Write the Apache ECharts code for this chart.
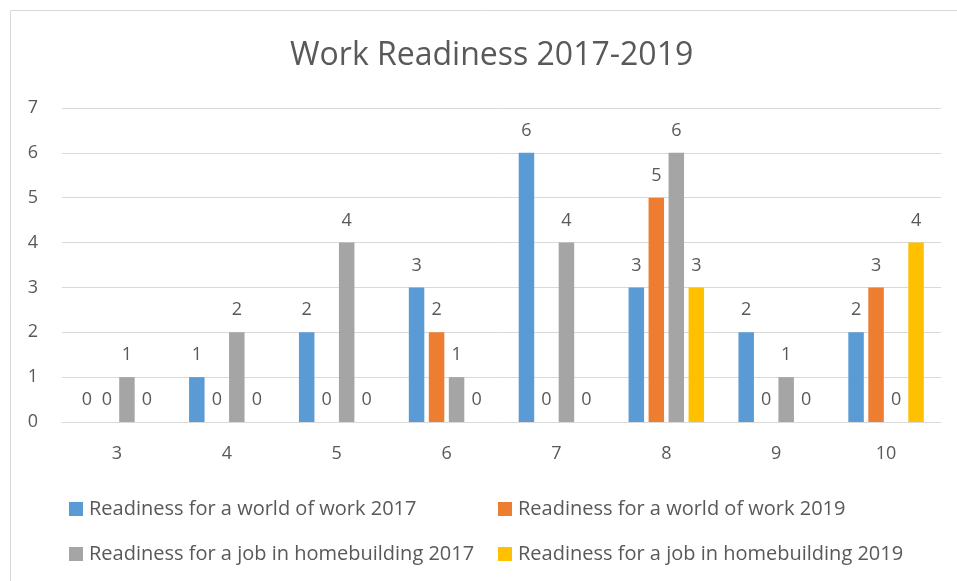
<!DOCTYPE html>
<html>
<head>
<meta charset="utf-8">
<script src="https://cdn.jsdelivr.net/npm/echarts@6/dist/echarts.min.js"></script>
<style>
  html, body { margin: 0; padding: 0; background: #fff; }
  #chart { width: 957px; height: 581px; }
</style>
</head>
<body>
<div id="chart"></div>
<script>
var categories = ['3', '4', '5', '6', '7', '8', '9', '10'];
var seriesNames = [
    'Readiness for a world of work 2017',
    'Readiness for a world of work 2019',
    'Readiness for a job in homebuilding 2017',
    'Readiness for a job in homebuilding 2019'
];
var work2017 = [0, 1, 2, 3, 6, 3, 2, 2];
var work2019 = [0, 0, 0, 2, 0, 5, 0, 3];
var home2017 = [1, 2, 4, 1, 4, 6, 1, 0];
var home2019 = [0, 0, 0, 0, 0, 3, 0, 4];
var colors = ['#5B9BD5', '#ED7D31', '#A5A5A5', '#FFC000'];

var font = 'Open Sans';
var textColor = '#595959';

var chart = echarts.init(document.getElementById('chart'));

var values = [work2017, work2019, home2017, home2019];
var series = values.map(function (data, i) {
    return {
        type: 'bar',
        name: seriesNames[i],
        data: data,
        barWidth: 15.5,
        barGap: '29%',
        itemStyle: { color: colors[i] },
        label: {
            show: true,
            position: 'top',
            distance: 13,
            color: textColor,
            fontFamily: font,
            fontSize: 18
        }
    };
});

// one legend per item so the two columns line up
var legendPos = [[64, 494], [493, 494], [64, 539], [493, 539]];
var legends = seriesNames.map(function (name, i) {
    return {
        data: [name],
        left: legendPos[i][0],
        top: legendPos[i][1],
        icon: 'rect',
        itemWidth: 14,
        itemHeight: 14,
        itemGap: 0,
        selectedMode: false,
        textStyle: {
            color: textColor,
            fontFamily: font,
            fontSize: 20,
            padding: [0, 0, 0, 1]
        }
    };
});

chart.setOption({
    color: colors,
    animation: false,
    // the original frame runs past the right edge, so the title sits right of centre
    title: {
        text: 'Work Readiness 2017-2019',
        left: 285,
        top: 35,
        textStyle: {
            color: textColor,
            fontFamily: font,
            fontWeight: 'normal',
            fontSize: 32
        }
    },
    graphic: [{
        type: 'rect',
        shape: { x: 10.5, y: 10.5, width: 960, height: 600 },
        style: { fill: 'none', stroke: '#d9d9d9', lineWidth: 1 },
        silent: true
    }],
    legend: legends,
    grid: {
        left: 62,
        right: 16,
        top: 108,
        bottom: 159
    },
    xAxis: {
        type: 'category',
        data: categories,
        axisTick: { show: false },
        axisLine: { lineStyle: { color: '#d9d9d9', width: 1 } },
        axisLabel: {
            color: textColor,
            fontFamily: font,
            fontSize: 18,
            margin: 23
        }
    },
    yAxis: {
        type: 'value',
        min: 0,
        max: 7,
        interval: 1,
        axisLine: { show: false },
        axisTick: { show: false },
        splitLine: { lineStyle: { color: '#d9d9d9', width: 1 } },
        axisLabel: {
            color: textColor,
            fontFamily: font,
            fontSize: 18,
            margin: 24
        }
    },
    series: series
});
</script>
</body>
</html>
